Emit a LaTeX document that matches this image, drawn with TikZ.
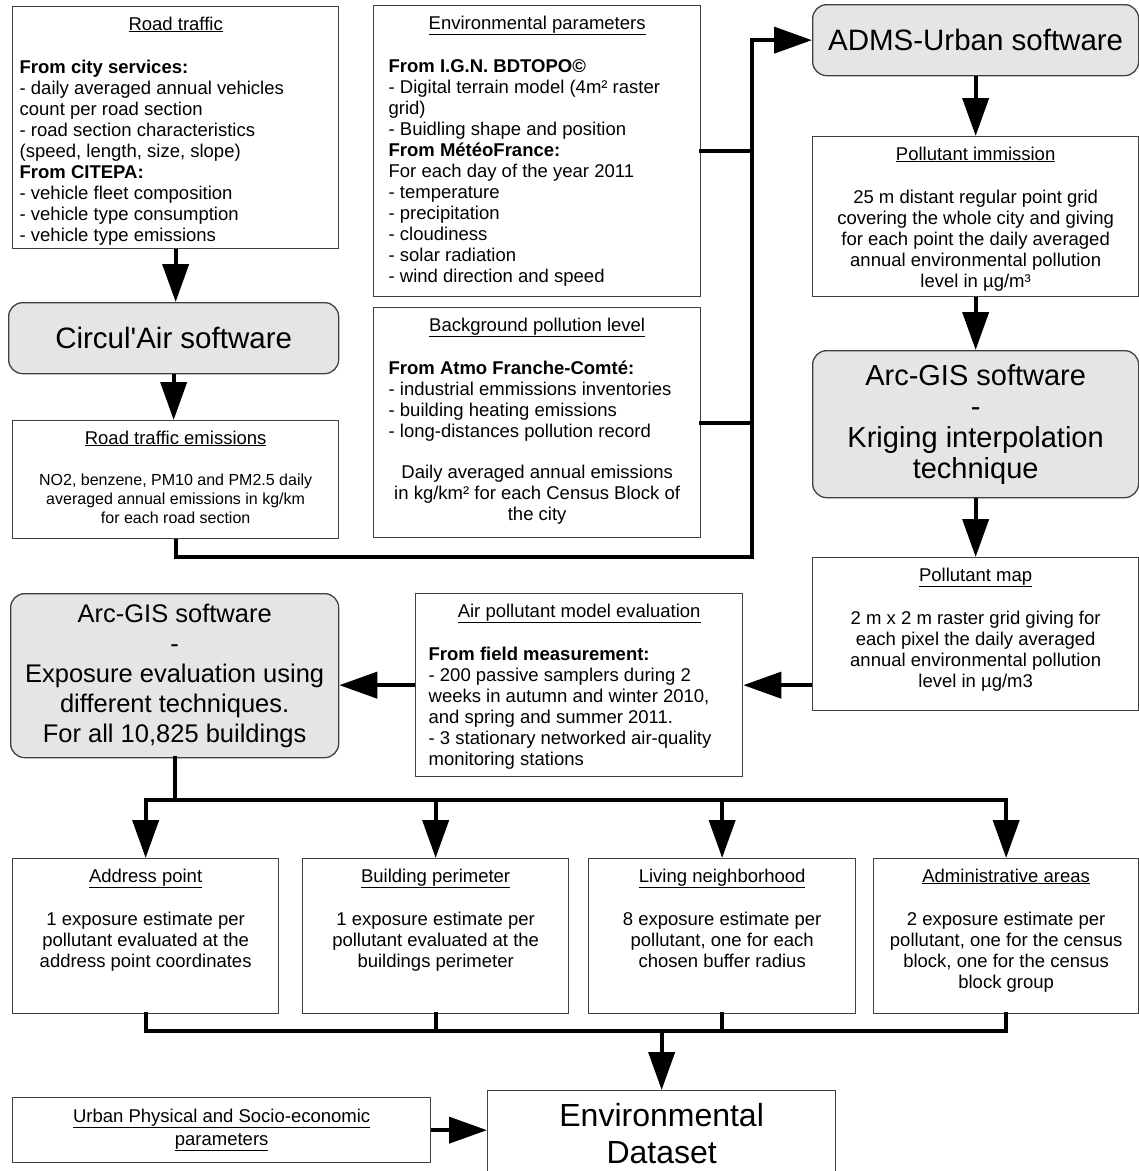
\documentclass[tikz,border=0pt]{standalone}
\usepackage{fontspec}
\setmainfont{Liberation Sans}
\usetikzlibrary{arrows.meta}
\tikzstyle{panel}=[draw=black!75, line width=1.3pt, anchor=north west, inner sep=0pt, font=\fontsize{18.5}{21}\selectfont]
\tikzstyle{plain}=[draw=black!75, line width=1.3pt, anchor=north west, inner sep=0pt, align=center]
\tikzstyle{software}=[draw=black!75, line width=1.3pt, rounded corners=14pt, fill=gray!20, anchor=north west, inner sep=0pt, align=center, font=\fontsize{29.5}{31}\selectfont]
\tikzstyle{link}=[line width=4pt, line cap=rect]
\tikzstyle{flow}=[line width=4pt, -{Triangle[length=38pt,width=26pt]}]
\newcommand{\paneltext}[4]{\parbox[c][#2][t]{#1}{\vspace*{10pt}\centering\underline{#3}\par\vspace{22pt}#4}}
\newcommand{\leftlines}[2][15pt]{{\raggedright\leftskip=#1\relax #2\par}}

\begin{document}
\begin{tikzpicture}[x=1pt, y=-1pt]
\useasboundingbox (0,0) rectangle (1139,1171);
\node[panel] at (12, 6) (traffic) {\paneltext{326pt}{242pt}{Road traffic}{\leftlines[7pt]{\textbf{From city services:}\\- daily averaged annual vehicles\\count per road section\\- road section characteristics\\(speed, length, size, slope)\\\textbf{From CITEPA:}\\- vehicle fleet composition\\- vehicle type consumption\\- vehicle type emissions}}};
\node[panel] at (373, 5) (envpar) {\paneltext{327pt}{291pt}{Environmental parameters}{\leftlines{\textbf{From I.G.N. BDTOPO©}\\- Digital terrain model (4m² raster\\grid)\\- Buidling shape and position\\\textbf{From MétéoFrance:}\\For each day of the year 2011\\- temperature\\- precipitation\\- cloudiness\\- solar radiation\\- wind direction and speed}}};
\node[software, minimum width=326pt, minimum height=71pt] at (812, 4) (adms) {ADMS-Urban software};
\node[panel] at (812, 136) (immis) {\paneltext{326pt}{160pt}{Pollutant immission}{25 m distant regular point grid\\covering the whole city and giving\\for each point the daily averaged\\annual environmental pollution\\level in µg/m³}};
\node[software, minimum width=330pt, minimum height=71pt] at (8, 302) (circul) {Circul\textquotesingle Air software};
\node[panel] at (373, 307) (backgr) {\paneltext{327pt}{230pt}{Background pollution level}{\leftlines{\textbf{From Atmo Franche-Comté:}\\- industrial emmissions inventories\\- building heating emissions\\- long-distances pollution record}\vspace{20pt}Daily averaged annual emissions\\in kg/km² for each Census Block of\\the city}};
\node[panel] at (12, 420) (emis) {\paneltext{326pt}{118pt}{Road traffic emissions}{\fontsize{16}{19}\selectfont NO2, benzene, PM10 and PM2.5 daily\\averaged annual emissions in kg/km\\for each road section}};
\node[software, minimum width=326pt, minimum height=147pt, font=\fontsize{29}{31}\selectfont] at (812, 350) (kriging) {Arc-GIS software\\-\\Kriging interpolation\\technique};
\node[panel] at (812, 557) (polmap) {\paneltext{326pt}{153pt}{Pollutant map}{2 m x 2 m raster grid giving for\\each pixel the daily averaged\\annual environmental pollution\\level in µg/m3}};
\node[panel] at (415, 593) (airmodel) {\paneltext{327pt}{183pt}{Air pollutant model evaluation}{\leftlines[13pt]{\textbf{From field measurement:}\\- 200 passive samplers during 2\\weeks in autumn and winter 2010,\\and spring and summer 2011.\\- 3 stationary networked air-quality\\monitoring stations}}};
\node[software, minimum width=328pt, minimum height=164pt, font=\fontsize{25.5}{30}\selectfont] at (10, 593) (exposure) {Arc-GIS software\\-\\Exposure evaluation using\\different techniques.\\For all 10,825 buildings};
\node[panel] at (12, 858) (address) {\paneltext{266pt}{155pt}{Address point}{1 exposure estimate per\\pollutant evaluated at the\\address point coordinates}};
\node[panel] at (302, 858) (building) {\paneltext{266pt}{155pt}{Building perimeter}{1 exposure estimate per\\pollutant evaluated at the\\buildings perimeter}};
\node[panel] at (588, 858) (living) {\paneltext{267pt}{155pt}{Living neighborhood}{8 exposure estimate per\\pollutant, one for each\\chosen buffer radius}};
\node[panel] at (873, 858) (admin) {\paneltext{265pt}{155pt}{Administrative areas}{2 exposure estimate per\\pollutant, one for the census\\block, one for the census\\block group}};
\node[plain, minimum width=348pt, minimum height=86pt, font=\fontsize{32}{37}\selectfont] at (487, 1090) (dataset) {Environmental\\Dataset};
\node[plain, minimum width=418pt, minimum height=65pt, font=\fontsize{18.5}{23}\selectfont] at (12, 1097) (urban) {\underline{Urban Physical and Socio-economic}\\\underline{parameters}};

\coordinate (joint) at (752, 557);
\coordinate (split) at (0, 800);
\coordinate (merge) at (0, 1031);
\draw[flow] (traffic) -- (traffic |- circul.north);
\draw[flow] (circul) -- (circul |- emis.north);
\draw[flow] (emis.south) |- (joint) |- (adms.west);
\draw[link] (envpar.east) -- (envpar.east -| joint);
\draw[link] (backgr.east) -- (backgr.east -| joint);
\draw[flow] (adms) -- (immis);
\draw[flow] (immis) -- (kriging);
\draw[flow] (kriging) -- (polmap);
\draw[flow] (polmap.west |- airmodel.east) -- (airmodel.east);
\draw[flow] (airmodel.west) -- (airmodel.west -| exposure.east);
\draw[link] (exposure) -- (exposure |- split);
\draw[link] (address |- split) -- (admin |- split);
\foreach \n in {address, building, living, admin} \draw[flow] (\n |- split) -- (\n.north);
\foreach \n in {address, building, living, admin} \draw[link] (\n) -- (\n |- merge);
\draw[link] (address |- merge) -- (admin |- merge);
\draw[flow] (dataset |- merge) -- (dataset);
\draw[flow] (urban) -- (urban -| dataset.west);
\end{tikzpicture}
\end{document}
